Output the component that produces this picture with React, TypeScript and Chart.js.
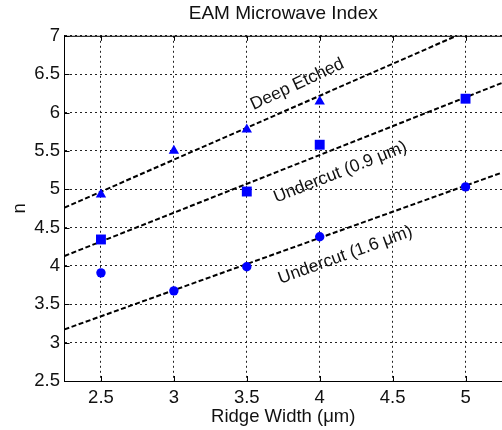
import React, { useEffect, useRef } from "react";
import { Chart, registerables } from "chart.js";

Chart.register(...registerables);

// Axis ticks
const xTicks = [2.5, 3, 3.5, 4, 4.5, 5];
const xRange = [2.25, 5.25];
const yRange = [2.5, 7];

// Measured points
const deepEtchedX = [2.5, 3, 3.5, 4];
const deepEtchedY = [4.93, 5.5, 5.78, 6.145];
const undercut09X = [2.5, 3.5, 4, 5];
const undercut09Y = [4.345, 4.97, 5.58, 6.18];
const undercut16X = [2.5, 3, 3.5, 4, 5];
const undercut16Y = [3.91, 3.675, 3.99, 4.38, 5.03];

// Fitted dashed lines (end points at the axis limits)
const fitX = [2.25, 5.25];
const deepEtchedFit = [4.76, 7.26];
const undercut09Fit = [4.13, 6.386];
const undercut16Fit = [3.173, 5.217];

// Curve labels (anchors in data units, angle in degrees)
const curveLabels = ["Deep Etched", "Undercut (0.9 μm)", "Undercut (1.6 μm)"];
const labelX = [3.846, 4.141, 4.176];
const labelY = [6.367, 5.22, 4.14];
const labelAngle = [25, 21.5, 20];

const FAMILY = "'Liberation Sans', Arial, Helvetica, sans-serif";
const BLUE = "#0000ff";

const pts = (xs: number[], ys: number[]) => xs.map((x, i) => ({ x, y: ys[i] }));

const framePlugin = {
  id: "frame",
  afterDraw(chart: any) {
    const { ctx, chartArea } = chart;
    const { left, right, top, bottom } = chartArea;
    const xs = chart.scales.x;
    const ys = chart.scales.y;
    ctx.save();
    ctx.strokeStyle = "#000";
    ctx.lineWidth = 1;
    ctx.beginPath();
    ctx.moveTo(left, top + 0.5);
    ctx.lineTo(right, top + 0.5);
    xs.ticks.forEach((t: any) => {
      const px = Math.round(xs.getPixelForValue(t.value)) + 0.5;
      ctx.moveTo(px, bottom);
      ctx.lineTo(px, bottom - 5);
      ctx.moveTo(px, top);
      ctx.lineTo(px, top + 5);
    });
    ys.ticks.forEach((t: any) => {
      const py = Math.round(ys.getPixelForValue(t.value)) + 0.5;
      ctx.moveTo(left, py);
      ctx.lineTo(left + 5, py);
    });
    ctx.stroke();
    ctx.restore();
  },
};

const labelPlugin = {
  id: "curveLabels",
  afterDatasetsDraw(chart: any) {
    const { ctx } = chart;
    const xs = chart.scales.x;
    const ys = chart.scales.y;
    ctx.save();
    ctx.fillStyle = "#111";
    ctx.font = `17.5px ${FAMILY}`;
    ctx.textAlign = "center";
    ctx.textBaseline = "middle";
    curveLabels.forEach((txt, i) => {
      const px = xs.getPixelForValue(labelX[i]);
      const py = ys.getPixelForValue(labelY[i]);
      ctx.save();
      ctx.translate(px, py);
      ctx.rotate((-labelAngle[i] * Math.PI) / 180);
      ctx.fillText(txt, 0, 0);
      ctx.restore();
    });
    ctx.restore();
  },
};

export default function App() {
  const ref = useRef<HTMLCanvasElement | null>(null);

  useEffect(() => {
    if (!ref.current) return;
    const font = { family: FAMILY, size: 18.5, weight: "normal" as const };
    const lineDs = (ys: number[]) => ({
      type: "line" as const,
      data: pts(fitX, ys),
      borderColor: "#000",
      borderWidth: 2,
      borderDash: [5, 2.5],
      pointRadius: 0,
      showLine: true,
      fill: false,
      clip: 0,
      order: 1,
    });
    const chart = new Chart(ref.current, {
      type: "scatter",
      data: {
        datasets: [
          lineDs(deepEtchedFit),
          lineDs(undercut09Fit),
          lineDs(undercut16Fit),
          {
            data: pts(deepEtchedX, deepEtchedY),
            pointStyle: "triangle",
            pointRadius: 6,
            backgroundColor: BLUE,
            borderColor: BLUE,
            borderWidth: 0,
            clip: false,
            order: 0,
          } as any,
          {
            data: pts(undercut09X, undercut09Y),
            pointStyle: "rect",
            pointRadius: 7,
            backgroundColor: BLUE,
            borderColor: BLUE,
            borderWidth: 0,
            clip: false,
            order: 0,
          } as any,
          {
            data: pts(undercut16X, undercut16Y),
            pointStyle: "circle",
            pointRadius: 4.7,
            backgroundColor: BLUE,
            borderColor: BLUE,
            borderWidth: 0,
            clip: false,
            order: 0,
          } as any,
        ] as any,
      },
      options: {
        animation: false,
        responsive: false,
        maintainAspectRatio: false,
        layout: { padding: 0, autoPadding: false },
        plugins: {
          legend: { display: false },
          tooltip: { enabled: false },
          title: {
            display: true,
            fullSize: false,
            text: "EAM Microwave Index",
            color: "#111",
            font: { family: FAMILY, size: 19, weight: "normal" },
            padding: { top: 2.5, bottom: 10.5 },
          },
        },
        scales: {
          x: {
            type: "linear",
            min: xRange[0],
            max: xRange[1],
            afterBuildTicks: (s: any) => {
              s.ticks = xTicks.map((v) => ({ value: v }));
            },
            afterFit: (s: any) => {
              s.height = 49;
              s.paddingLeft = 0;
              s.paddingRight = 0;
            },
            grid: { color: "#222", lineWidth: 1, drawTicks: false },
            border: { display: true, color: "#000", width: 1, dash: [2, 3] },
            ticks: {
              color: "#111",
              font,
              padding: 6,
              maxRotation: 0,
              autoSkip: false,
              callback: (v: any) => String(v),
            },
            title: {
              display: true,
              text: "Ridge Width (μm)",
              color: "#111",
              font,
              padding: { top: 0, bottom: 1.5 },
            },
          },
          y: {
            type: "linear",
            min: yRange[0],
            max: yRange[1],
            afterFit: (s: any) => {
              s.width = 64.5;
              s.paddingTop = 0;
              s.paddingBottom = 0;
            },
            grid: { color: "#222", lineWidth: 1, drawTicks: false },
            border: { display: true, color: "#000", width: 1, dash: [2, 3] },
            ticks: {
              stepSize: 0.5,
              color: "#111",
              font,
              padding: 4.5,
              callback: (v: any) => String(v),
            },
            title: {
              display: true,
              text: "n",
              color: "#111",
              font,
              padding: { top: 9, bottom: 0 },
            },
          },
        },
      } as any,
      plugins: [framePlugin, labelPlugin],
    });
    return () => chart.destroy();
  }, []);

  return (
    <div style={{ position: "absolute", left: 0, top: 0, width: 502, height: 430, background: "#fff" }}>
      <canvas ref={ref} width={502} height={430} style={{ display: "block" }} />
    </div>
  );
}
